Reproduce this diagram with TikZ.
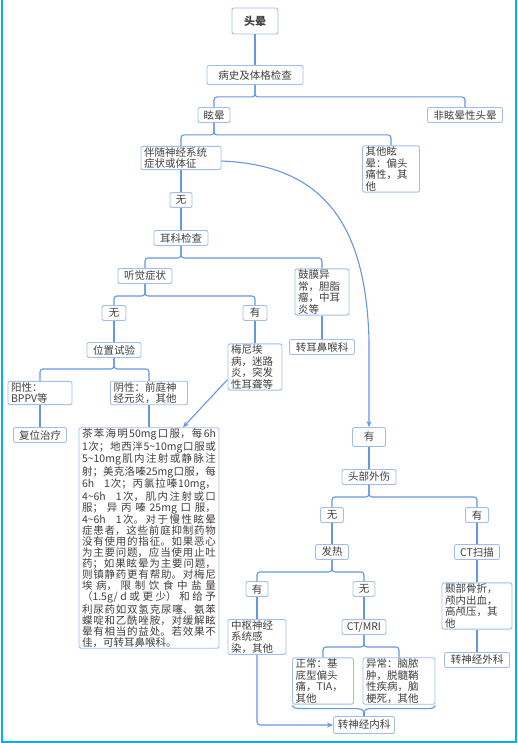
\documentclass[tikz,border=0pt]{standalone}
\usepackage{fontspec}
\setmainfont{Noto Sans CJK SC}
\usetikzlibrary{arrows.meta,decorations.pathreplacing}
\XeTeXlinebreaklocale "zh"
\XeTeXlinebreakskip=0pt plus 1.5pt
\begin{document}
\begin{tikzpicture}[x=1pt, y=-1pt,
    box/.style={draw=boxblue, line width=0.9pt, rounded corners=2pt, fill=white, text=txt,
      inner xsep=3pt, inner ysep=1pt, minimum height=15pt, font=\fontsize{10.5}{11.5}\selectfont},
    note/.style={box, text width=#1, align=left},
    edge/.style={draw=lineblue, line width=1.1pt, rounded corners=3pt},
    link/.style={edge, -{Stealth[length=6pt,width=5pt]}},
    bracket/.style={draw=lineblue, line width=1.1pt, sharp corners, decorate,
      decoration={brace, mirror, amplitude=6pt}}]
  \definecolor{boxblue}{RGB}{160,190,235}
  \definecolor{lineblue}{RGB}{100,150,225}
  \definecolor{txt}{RGB}{64,64,64}
  \definecolor{framecyan}{RGB}{0,176,240}
  \useasboundingbox (0,0) rectangle (517,743);
  \draw[framecyan, line width=2pt] (1.5,0) -- (1.5,741.5) -- (515.5,741.5) -- (515.5,0);
  % upper part
  \node[box, minimum width=46pt, minimum height=26pt, font=\fontsize{11}{13}\selectfont\bfseries] (touyun) at (255,21) {头晕};
  \node[box, minimum width=96pt, minimum height=19pt] (bingshi) at (255,75) {病史及体格检查};
  \node[box, minimum width=32pt] (xuanyun) at (214,115) {眩晕};
  \node[box, minimum width=75pt] (feixuan) at (465,115) {非眩晕性头晕};
  \node[note=74pt] (bansui) at (181,158) {伴随神经系统\\症状或体征};
  \node[note=51pt] (qita) at (391,169) {其他眩\\晕：偏头\\痛性，其\\他};
  \node[box, minimum width=22pt] (wu1) at (181,200) {无};
  \node[box, minimum width=54pt] (erke) at (181,238) {耳科检查};
  \node[box, minimum width=54pt] (tingjue) at (145,276) {听觉症状};
  \node[note=48pt] (gumo) at (322,292) {鼓膜异\\常，胆脂\\瘤，中耳\\炎等};
  \node[box, minimum width=65pt] (zhuaner) at (322,347) {转耳鼻喉科};
  \node[box, minimum width=24pt] (wu2) at (114,313) {无};
  \node[box, minimum width=24pt] (you2) at (255,313) {有};
  \node[box, minimum width=54pt] (weizhi) at (114,350) {位置试验};
  \node[note=48pt] (meini) at (255,367) {梅尼埃\\病，迷路\\炎，突发\\性耳聋等};
  \node[note=58pt] (yang) at (40,393) {阳性：\\BPPV等};
  \node[note=71pt] (yin) at (149,393) {阴性：前庭神\\经元炎，其他};
  \node[box, minimum width=53pt] (fuwei) at (40,435) {复位治疗};
  \node[note=134pt, align=justify, font=\fontsize{10.5}{11}\selectfont] (yao) at (149,538) {%
    茶苯海明50mg口服，每6h\linebreak
    1次；地西泮5\textasciitilde10mg口服或\linebreak
    5\textasciitilde10mg肌内注射或静脉注\linebreak
    射；美克洛嗪25mg口服，每\linebreak
    6h\hspace{10pt}1次；丙氯拉嗪10mg，\linebreak
    4\textasciitilde6h\hspace{10pt}1次，肌内注射或口\linebreak
    服；异丙嗪25mg口服，\linebreak
    4\textasciitilde6h\hspace{10pt}1次。对于慢性眩晕\linebreak
    症患者，这些前庭抑制药物\linebreak
    没有使用的指征。如果恶心\linebreak
    为主要问题，应当使用止吐\linebreak
    药；如果眩晕为主要问题，\linebreak
    则镇静药更有帮助。对梅尼\linebreak
    埃病，限制饮食中盐量\linebreak
    （1.5g/d或更少）和给予\linebreak
    利尿药如双氢克尿噻、氨苯\linebreak
    蝶啶和乙酰唑胺，对缓解眩\linebreak
    晕有相当的益处。若效果不\linebreak
    佳，可转耳鼻喉科。};
  % lower part
  \node[box, minimum width=33pt, minimum height=19pt] (you3) at (369,437) {有};
  \node[box, minimum width=54pt] (waishang) at (369,477) {头部外伤};
  \node[box, minimum width=23pt] (wu3) at (332,515) {无};
  \node[box, minimum width=23pt] (you4) at (477,515) {有};
  \node[box, minimum width=33pt] (fare) at (332,552) {发热};
  \node[box, minimum width=45pt] (ctscan) at (477,552) {CT扫描};
  \node[box, minimum width=22pt] (you5) at (257,589) {有};
  \node[box, minimum width=22pt] (wu5) at (364,589) {无};
  \node[note=64pt] (niebu) at (477,606) {颞部骨折，\\颅内出血，\\高颅压，其\\他};
  \node[box, minimum width=65pt] (zhuanwai) at (477,660) {转神经外科};
  \node[note=52pt] (zhongshu) at (257,637) {中枢神经\\系统感\\染，其他};
  \node[box, minimum width=44pt] (ctmri) at (364,627) {CT/MRI};
  \node[note=55pt] (zhengchang) at (323,681) {正常：基\\底型偏头\\痛，TIA，\\其他};
  \node[note=66pt] (yichang) at (399,681) {异常：脑脓\\肿，脱髓鞘\\性疾病，脑\\梗死，其他};
  \node[box, minimum width=61pt, minimum height=17pt] (zhuannei) at (364,725) {转神经内科};
  \coordinate (bracetip) at (364,712);
  % connectors
  \draw[edge] (touyun) -- (bingshi);
  \draw[edge] (bingshi.south) -- ++(0,12) -| (xuanyun.north);
  \draw[edge] (bingshi.south) -- ++(0,12) -| (feixuan.north);
  \draw[edge] (xuanyun.south) -- ++(0,12) -| (bansui.north);
  \draw[edge] (xuanyun.south) -- ++(0,12) -| (qita.north);
  \draw[edge] (bansui) -- (wu1);
  \draw[edge] (wu1) -- (erke);
  \draw[edge] (erke.south) -- ++(0,12) -| (tingjue.north);
  \draw[edge] (erke.south) -- ++(0,12) -| (gumo.north);
  \draw[edge] (tingjue.south) -- ++(0,12) -| (wu2.north);
  \draw[edge] (tingjue.south) -- ++(0,12) -| (you2.north);
  \draw[edge] (wu2) -- (weizhi);
  \draw[edge] (you2) -- (meini);
  \draw[edge] (weizhi.south) -- ++(0,11) -| (yang.north);
  \draw[edge] (weizhi.south) -- ++(0,11) -| (yin.north);
  \draw[edge] (yang) -- (fuwei);
  \draw[edge] (yin) -- (yao);
  \draw[link] ([yshift=11pt]meini.south west) -- ([xshift=34pt]yao.north);
  \draw[edge] (gumo) -- (zhuaner);
  \draw[link] ([yshift=-3pt]bansui.east) .. controls (320,165) and (365,220) .. (369,340) -- (you3.north);
  \draw[edge] (you3) -- (waishang);
  \draw[edge] (waishang.south) -- ++(0,12) -| (wu3.north);
  \draw[edge] (waishang.south) -- ++(0,12) -| (you4.north);
  \draw[edge] (wu3) -- (fare);
  \draw[edge] (you4) -- (ctscan);
  \draw[edge] (fare.south) -- ++(0,12) -| (you5.north);
  \draw[edge] (fare.south) -- ++(0,12) -| (wu5.north);
  \draw[edge] (ctscan) -- (niebu);
  \draw[edge] (you5) -- (zhongshu);
  \draw[edge] (wu5) -- (ctmri);
  \draw[edge] (ctmri.south) -- ++(0,12) -| (zhengchang.north);
  \draw[edge] (ctmri.south) -- ++(0,12) -| (yichang.north);
  \draw[edge] (niebu) -- (zhuanwai);
  \draw[bracket] ([yshift=-1pt]zhengchang.south west) -- ([yshift=-1pt]yichang.south east);
  \draw[edge] (bracetip) -- (zhuannei.north);
  \draw[link] (zhongshu.south) |- (zhuannei.west);
\end{tikzpicture}
\end{document}
